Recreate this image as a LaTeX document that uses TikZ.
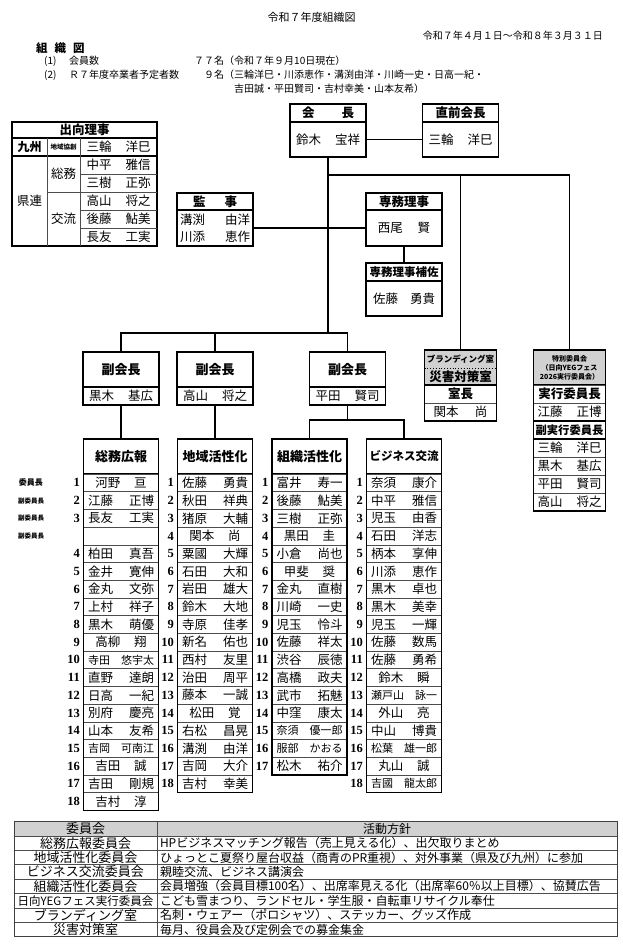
\documentclass[tikz,border=0pt]{standalone}
\usepackage{fontspec}
\setmainfont{Noto Sans CJK JP}
\newfontfamily\numfont{Liberation Serif}
\usetikzlibrary{positioning}

\newcommand\fsz[1]{\fontsize{#1}{#1}\selectfont}
\newcommand\nmbox[3][64pt]{\makebox[#1]{#2\hfill #3}}
\newcommand\ctrnm[2]{\hfill #1\hspace{1.1em}#2}

\definecolor{cellgray}{gray}{0.82}

\tikzset{
  box/.style={draw, line width=1.3pt, inner sep=0pt, outer sep=0pt, minimum width=76pt},
  hd/.style={box, minimum height=18pt, font=\bfseries\fsz{12.5}},
  bd/.style={box, minimum height=35pt, font=\fsz{12.5}},
  cell/.style={draw=black!70, line width=0.6pt, inner sep=0pt, outer sep=0pt,
    minimum width=75pt, minimum height=17.7pt, font=\fsz{12.5}},
  plain/.style={inner sep=0pt, outer sep=0pt},
  num/.style={anchor=east, inner sep=0pt, font=\numfont\bfseries\fsz{12.5}},
  txt/.style={inner sep=0pt, font=\fsz{10}},
  link/.style={line width=1.3pt},
  thinline/.style={line width=0.6pt, black!70},
}

\begin{document}
\begin{tikzpicture}[x=1pt, y=-1pt]
\useasboundingbox (0,0) rectangle (623,945);

% heading
\node[txt, font=\fsz{11}] (title) at (311.5,17) {令和７年度組織図};
\node[txt, anchor=east] (term) at (603,36) {令和７年４月１日～令和８年３月３１日};
\node[txt, anchor=west, font=\bfseries\fsz{11.5}] (soshikizu) at (36,48) {組\hspace{0.6em}織\hspace{0.6em}図};
\node[txt, anchor=west] (i1) at (44,61) {(1)};
\node[txt, anchor=west] (i1a) at (69,61) {会員数};
\node[txt, anchor=west] (i1b) at (194,61) {７７名（令和７年９月10日現在）};
\node[txt, anchor=west] (i2) at (44,75) {(2)};
\node[txt, anchor=west] (i2a) at (69,75) {Ｒ７年度卒業者予定者数};
\node[txt, anchor=west] (i2b) at (204,75) {９名（三輪洋巳・川添恵作・溝渕由洋・川崎一史・日高一紀・};
\node[txt, anchor=west] (i2c) at (234,89) {吉田誠・平田賢司・吉村幸美・山本友希）};

% 出向理事
\draw[link] (12,122) rectangle (157,246);
\draw[link] (12,138) -- (157,138);
\draw[link] (12,156) -- (157,156);
\draw[thinline] (47,138) -- (47,246);
\draw[thinline] (80,138) -- (80,246);
\draw[thinline] (47,192) -- (157,192);
\foreach \y in {174,210,228} \draw[thinline] (80,\y) -- (157,\y);
\node[plain, font=\bfseries\fsz{12.5}] (shukko) at (84.5,130) {出向理事};
\node[plain, font=\bfseries\fsz{12}] (kyushu) at (29.5,147) {九州};
\node[plain, font=\bfseries\fsz{6.5}] (kyoso) at (63.5,147) {地域協創};
\node[plain, font=\fsz{12.5}] (kenren) at (29.5,201) {県連};
\node[plain, font=\fsz{12.5}] (kensoumu) at (63.5,174) {総務};
\node[plain, font=\fsz{12.5}] (kenkoryu) at (63.5,219) {交流};
\foreach \s/\g [count=\i] in {三輪/洋巳,中平/雅信,三樹/正弥,高山/将之,後藤/鮎美,長友/工実}
  \node[plain, font=\fsz{12.5}] (sk-\i) at (118.5,{129+18*\i}) {\nmbox{\s}{\g}};

% 会長・直前会長
\node[hd] (kaichoH) at (328,113) {\makebox[52pt]{会\hfill 長}};
\node[bd, below=0pt of kaichoH] (kaicho) {\nmbox{鈴木}{宝祥}};
\node[hd] (zenH) at (460.5,113) {直前会長};
\node[bd, below=0pt of zenH] (zen) {\nmbox{三輪}{洋巳}};
\draw[link] (kaicho) -- (zen);

% 監事・専務理事
\node[hd, minimum height=17pt] (kanjiH) at (215,201.5) {\makebox[44pt]{監\hfill 事}};
\node[bd, minimum height=36pt, align=center, font=\fontsize{12.5}{17}\selectfont, below=0pt of kanjiH] (kanji) {\nmbox[70pt]{溝渕}{由洋}\\\nmbox[70pt]{川添}{恵作}};
\node[hd, minimum height=17pt] (senmuH) at (404,201.5) {専務理事};
\node[bd, minimum height=36pt, below=0pt of senmuH] (senmu) {西尾\hspace{1.2em}賢};
\draw[link] (kanji) -- (senmu);
\node[hd, font=\bfseries\fsz{11.5}] (hosaH) at (404,272) {専務理事補佐};
\node[bd, below=0pt of hosaH] (hosa) {\nmbox[62pt]{佐藤}{勇貴}};
\draw[link] (senmu) -- (hosaH);

% trunk
\coordinate (br) at (328,175);
\coordinate (trunk) at (328,333);
\draw[link] (kaicho) -- (trunk);

% 副会長
\node[hd, minimum height=35pt, font=\bfseries\fsz{13}] (fuku1H) at (121,369.5) {副会長};
\node[bd, minimum height=18pt, below=0pt of fuku1H] (fuku1) {\nmbox{黒木}{基広}};
\node[hd, minimum height=35pt, font=\bfseries\fsz{13}] (fuku2H) at (215,369.5) {副会長};
\node[bd, minimum height=18pt, below=0pt of fuku2H] (fuku2) {\nmbox{高山}{将之}};
\node[hd, minimum height=35pt, font=\bfseries\fsz{13}] (fuku3H) at (347.5,369.5) {副会長};
\node[bd, minimum height=18pt, below=0pt of fuku3H] (fuku3) {\nmbox{平田}{賢司}};
\draw[link] (fuku1H.north) |- (trunk) -| (fuku3H.north);
\draw[link] (fuku2H.north) |- (trunk);

% ブランディング室・災害対策室
\node[plain, fill=cellgray, minimum width=72pt, minimum height=18pt, font=\bfseries\fsz{8.5}] (brand) at (460.5,359) {ブランディング室};
\node[plain, fill=cellgray, minimum width=72pt, minimum height=17pt, font=\bfseries\fsz{12.5}, below=0pt of brand] (saigai) {災害対策室};
\node[cell, minimum width=72pt, minimum height=18pt, font=\bfseries\fsz{12.5}, below=0pt of saigai] (shitsuchoH) {室長};
\node[cell, minimum width=72pt, minimum height=18pt, below=0pt of shitsuchoH] (shitsucho) {関本\hspace{1.3em}尚};
\draw[dotted, line width=0.8pt] (brand.south west) -- (brand.south east);
\draw[link] (saigai.south west) -- (saigai.south east);
\draw[link] (brand.north west) rectangle (shitsucho.south east);
\draw[link] (brand.north) |- (br);

% 特別委員会
\node[box, fill=cellgray, minimum width=72pt, minimum height=35pt, align=center, font=\bfseries\fontsize{7}{9}\selectfont] (toku) at (569.5,367.5) {特別委員会\\（日向YEGフェス\\2026実行委員会）};
\node[cell, minimum width=72pt, minimum height=18pt, font=\bfseries\fsz{12.5}, below=0pt of toku] (jikkoH) {実行委員長};
\node[cell, minimum width=72pt, minimum height=18pt, below=0pt of jikkoH] (jikko) {\nmbox{江藤}{正博}};
\node[cell, minimum width=72pt, minimum height=18pt, font=\bfseries\fsz{11.3}, below=0pt of jikko] (fjikkoH) {副実行委員長};
\foreach \s/\g [count=\i] in {三輪/洋巳,黒木/基広,平田/賢司,高山/将之}
  \node[cell, minimum width=72pt, minimum height=18pt] (fj-\i) at (569.5,{430+18*\i}) {\nmbox{\s}{\g}};
\draw[link] (fjikkoH.north west) rectangle (fjikkoH.south east);
\draw[link] (toku.north west) rectangle (fj-4.south east);
\draw[link] (br) -| (toku.north);

% 委員長・副委員長
\node[plain, font=\bfseries\fsz{8}] (iincho) at (31,482.85) {委員長};
\foreach \i in {2,3,4}
  \node[plain, font=\bfseries\fsz{6.5}] (fukuiin-\i) at (31,{465.15+17.7*\i}) {副委員長};

% 総務広報
\node[hd, minimum width=75pt, minimum height=35pt, font=\bfseries\fsz{13}] (soumu) at (121,456.5) {総務広報};
\foreach \n/\s/\g [count=\i] in {1/\ctrnm{河野}{亘}/, 2/江藤/正博, 3/長友/工実, {}/{}/{},
    4/柏田/真吾, 5/金井/寛伸, 6/金丸/文弥, 7/上村/祥子, 8/黒木/萌優, 9/\ctrnm{高柳}{翔}/,
    10/\fsz{11}寺田/悠宇太, 11/直野/達朗, 12/日高/一紀, 13/別府/慶亮, 14/山本/友希,
    15/\fsz{11}吉岡/可南江, 16/\ctrnm{吉田}{誠}/, 17/吉田/剛規, 18/\ctrnm{吉村}{淳}/}{
  \node[cell] (soumu-\i) at (121,{465.15+17.7*\i}) {\makebox[66pt]{\s\hfill\g}};
  \node[num] (soumu-n\i) at (80,{465.15+17.7*\i}) {\n};
}
\draw[link] (soumu.north west) rectangle (soumu-19.south east);
\draw[link] (fuku1) -- (soumu);

% 地域活性化
\node[hd, minimum width=75pt, minimum height=35pt, font=\bfseries\fsz{13}] (chiiki) at (215,456.5) {地域活性化};
\foreach \n/\s/\g [count=\i] in {1/佐藤/勇貴, 2/秋田/祥典, 3/猪原/大輔, 4/\ctrnm{関本}{尚}/,
    5/粟國/大輝, 6/石田/大和, 7/岩田/雄大, 8/鈴木/大地, 9/寺原/佳孝, 10/新名/佑也,
    11/西村/友里, 12/治田/周平, 13/藤本/一誠, 14/\ctrnm{松田}{覚}/, 15/右松/昌晃,
    16/溝渕/由洋, 17/吉岡/大介, 18/吉村/幸美}{
  \node[cell] (chiiki-\i) at (215,{465.15+17.7*\i}) {\makebox[66pt]{\s\hfill\g}};
  \node[num] (chiiki-n\i) at (174,{465.15+17.7*\i}) {\n};
}
\draw[link] (chiiki.north west) rectangle (chiiki-18.south east);
\draw[link] (fuku2) -- (chiiki);

% 組織活性化
\node[hd, minimum width=75pt, minimum height=35pt, font=\bfseries\fsz{13}] (soshiki) at (309.5,456.5) {組織活性化};
\foreach \n/\s/\g [count=\i] in {1/富井/寿一, 2/後藤/鮎美, 3/三樹/正弥, 4/\ctrnm{黒田}{圭}/,
    5/小倉/尚也, 6/\ctrnm{甲斐}{奨}/, 7/金丸/直樹, 8/川崎/一史, 9/児玉/怜斗, 10/佐藤/祥太,
    11/渋谷/辰徳, 12/高橋/政夫, 13/武市/拓魅, 14/中窪/康太, 15/\fsz{11}奈須/優一郎,
    16/\fsz{11}服部/かおる, 17/松木/祐介}{
  \node[cell] (soshiki-\i) at (309.5,{465.15+17.7*\i}) {\makebox[66pt]{\s\hfill\g}};
  \node[num] (soshiki-n\i) at (268.5,{465.15+17.7*\i}) {\n};
}
\draw[link] (soshiki.north west) rectangle (soshiki-17.south east);

% ビジネス交流
\node[hd, minimum width=75pt, minimum height=35pt, font=\bfseries\fsz{11.5}] (biz) at (404,456.5) {ビジネス交流};
\foreach \n/\s/\g [count=\i] in {1/奈須/康介, 2/中平/雅信, 3/児玉/由香, 4/石田/洋志,
    5/柄本/享伸, 6/川添/恵作, 7/黒木/卓也, 8/黒木/美幸, 9/児玉/一輝, 10/佐藤/数馬,
    11/佐藤/勇希, 12/\ctrnm{鈴木}{瞬}/, 13/\fsz{11}瀬戸山/詠一, 14/\ctrnm{外山}{亮}/,
    15/中山/博貴, 16/\fsz{11}松葉/雄一郎, 17/\ctrnm{丸山}{誠}/, 18/\fsz{11}吉國/龍太郎}{
  \node[cell] (biz-\i) at (404,{465.15+17.7*\i}) {\makebox[66pt]{\s\hfill\g}};
  \node[num] (biz-n\i) at (363,{465.15+17.7*\i}) {\n};
}
\draw[link] (biz.north west) rectangle (biz-18.south east);

\coordinate (split) at (347.5,420);
\draw[link] (fuku3) -- (split);
\draw[link] (soshiki.north) |- (split) -| (biz.north);

% 活動方針
\fill[cellgray] (14,821.5) rectangle (617,835.9);
\node[plain, font=\fsz{13}] (comH) at (85.5,828.7) {委員会};
\node[plain, font=\fsz{12}] (polH) at (387,828.7) {活動方針};
\foreach \c/\a [count=\i] in {
    総務広報委員会/HPビジネスマッチング報告（売上見える化）、出欠取りまとめ,
    地域活性化委員会/ひょっとこ夏祭り屋台収益（商青のPR重視）、対外事業（県及び九州）に参加,
    ビジネス交流委員会/親睦交流、ビジネス講演会,
    組織活性化委員会/会員増強（会員目標100名）、出席率見える化（出席率60％以上目標）、協賛広告,
    \fsz{11.5}日向YEGフェス実行委員会/こども雪まつり、ランドセル・学生服・自転車リサイクル奉仕,
    ブランディング室/名刺・ウェアー（ポロシャツ）、ステッカー、グッズ作成,
    災害対策室/毎月、役員会及び定例会での募金集金}{
  \node[plain, font=\fsz{13}] (com-\i) at (85.5,{828.7+14.4*\i}) {\c};
  \node[plain, font=\fsz{12}, anchor=west] (pol-\i) at (160,{828.7+14.4*\i}) {\a};
  \draw[thinline] (14,{821.5+14.4*\i}) -- (617,{821.5+14.4*\i});
}
\draw[thinline] (157,821.5) -- (157,936.7);
\draw[line width=1pt, black!75] (14,821.5) rectangle (617,936.7);
\end{tikzpicture}
\end{document}
